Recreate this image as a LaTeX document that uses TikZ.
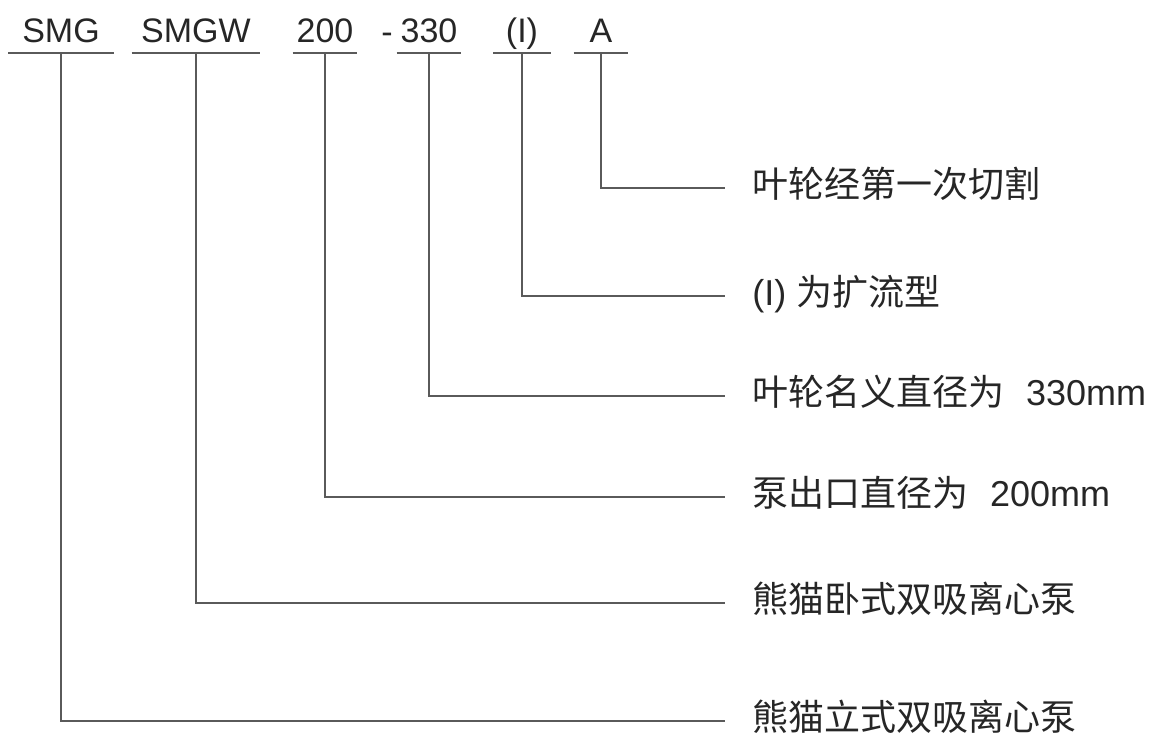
\documentclass[tikz,border=0pt]{standalone}
\usepackage{fontspec}
\setmainfont{Liberation Sans}
\newfontfamily\cjk{Noto Sans CJK SC}
\usetikzlibrary{positioning}
\usepackage{xcolor}
\definecolor{inkgrey}{HTML}{262626}
\definecolor{linegrey}{HTML}{5A5A5A}

\begin{document}
\begin{tikzpicture}[x=0.5pt, y=-0.5pt,
    every node/.style={
        inner sep=0pt,
        text=inkgrey
    },
    code/.style={
        anchor=south,
        inner ysep=5pt,
        text height=12pt,
        text depth=0pt,
        font=\fontsize{17}{20}\selectfont
    },
    label/.style={
        anchor=west,
        inner xsep=13.5pt,
        text height=0.95em,
        text depth=0.05em,
        font=\fontsize{18}{21}\selectfont
    },
    link/.style={
        draw=linegrey,
        line width=1.2pt
    }
]
    \useasboundingbox (0,0) rectangle (1150,740);

    % model code on top
    \node (smg) [code, minimum width=52.5pt, shift={(61, 53)}]
    {
        SMG
    };
    \node (smgw) [code, minimum width=64pt, shift={(196, 53)}]
    {
        SMGW
    };
    \node (outlet) [code, minimum width=32pt, shift={(325, 53)}]
    {
        200
    };
    \node (hyphen) [font=\fontsize{17}{20}\selectfont, shift={(387, 38)}]
    {
        -
    };
    \node (impeller) [code, minimum width=32pt, shift={(429, 53)}]
    {
        330
    };
    \node (flow) [code, minimum width=28.5pt, shift={(522, 53)}]
    {
        (I)
    };
    \node (cut) [code, minimum width=27pt, shift={(601, 53)}]
    {
        A
    };

    % explanations on the right
    \node (cut_txt) [label, shift={(725, 188)}]
    {
        {\cjk 叶轮经第一次切割}
    };
    \node (flow_txt) [label, shift={(725, 296)}]
    {
        (I) {\cjk 为扩流型}
    };
    \node (impeller_txt) [label, shift={(725, 396)}]
    {
        {\cjk 叶轮名义直径为}\hspace{0.6em}330mm
    };
    \node (outlet_txt) [label, shift={(725, 497)}]
    {
        {\cjk 泵出口直径为}\hspace{0.6em}200mm
    };
    \node (smgw_txt) [label, shift={(725, 603)}]
    {
        {\cjk 熊猫卧式双吸离心泵}
    };
    \node (smg_txt) [label, shift={(725, 721)}]
    {
        {\cjk 熊猫立式双吸离心泵}
    };

    % underlines
    \draw[link] (smg.south west) to (smg.south east);
    \draw[link] (smgw.south west) to (smgw.south east);
    \draw[link] (outlet.south west) to (outlet.south east);
    \draw[link] (impeller.south west) to (impeller.south east);
    \draw[link] (flow.south west) to (flow.south east);
    \draw[link] (cut.south west) to (cut.south east);

    % leaders
    \draw[link] (cut.south) |- (cut_txt.west);
    \draw[link] (flow.south) |- (flow_txt.west);
    \draw[link] (impeller.south) |- (impeller_txt.west);
    \draw[link] (outlet.south) |- (outlet_txt.west);
    \draw[link] (smgw.south) |- (smgw_txt.west);
    \draw[link] (smg.south) |- (smg_txt.west);
\end{tikzpicture}
\end{document}
